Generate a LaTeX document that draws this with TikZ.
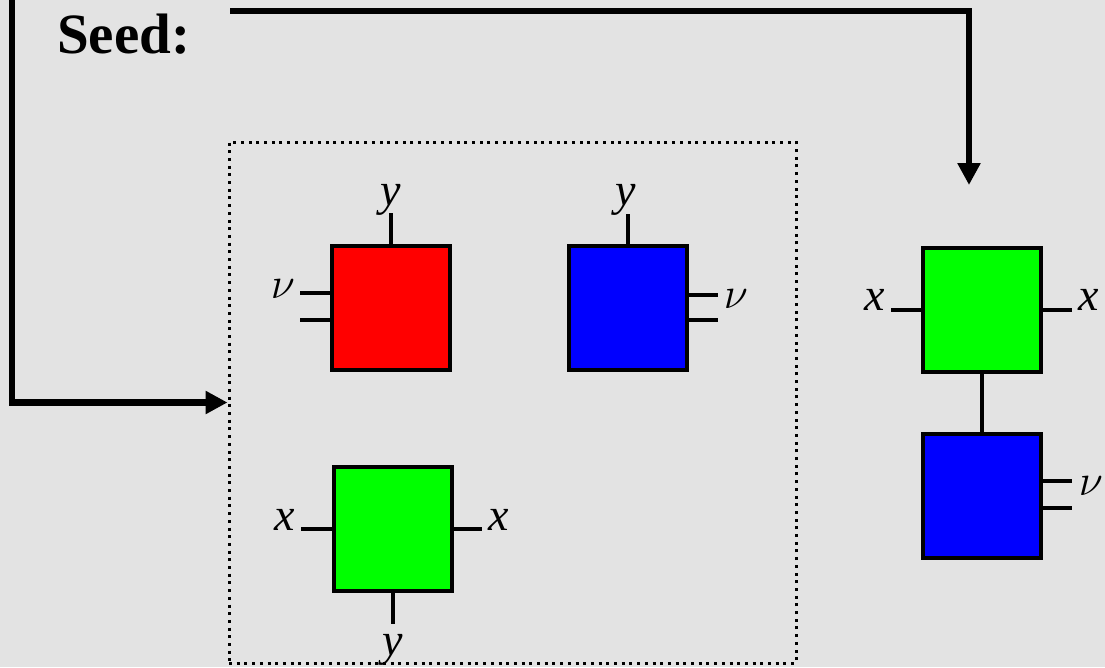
\documentclass[tikz,border=0pt]{standalone}
\usepackage{fix-cm}
\usepackage{fontspec}
\setmainfont{Liberation Serif}
\usetikzlibrary{arrows.meta}
\definecolor{bg}{HTML}{E3E3E3}
\definecolor{pred}{HTML}{FF0000}
\definecolor{pblue}{HTML}{0000FF}
\definecolor{pgreen}{HTML}{00FF00}
\begin{document}
\begin{tikzpicture}[x=1pt,y=-1pt,
  tile/.style={draw=black, line width=4pt, minimum width=118pt, minimum height=124pt, inner sep=0pt},
  stub/.style={draw=black, line width=4pt},
  lbl/.style={anchor=base, inner sep=0pt, font=\fontsize{46}{46}\selectfont\itshape},
  nulbl/.style={anchor=base, inner sep=0pt, font=\fontsize{44}{44}\selectfont},
  flow/.style={draw=black, line width=6.5pt, -{Triangle[length=22pt,width=22pt]}},
  frame/.style={draw=black, line width=3pt, dash pattern=on 3pt off 4.7pt, minimum width=567pt, minimum height=521pt, inner sep=0pt}
]
\fill[bg] (0,0) rectangle (1105,667);
\useasboundingbox (0,0) rectangle (1105,667);

% title
\node[anchor=base west, inner sep=0pt, font=\fontsize{57}{57}\selectfont\bfseries] (seed) at (57,53) {Seed:};

% dotted frame
\node[frame] (fr) at (512.5,402.5) {};

% tiles
\node[tile, fill=pred] (red) at (391,308) {};
\node[tile, fill=pblue] (blue) at (627.5,308) {};
\node[tile, fill=pgreen] (green) at (392.5,529) {};
\node[tile, fill=pgreen] (rgreen) at (982,310) {};
\node[tile, fill=pblue] (rblue) at (982,495.5) {};

% red stubs
\draw[stub] (red.north) -- ++(0,-31);
\draw[stub] ([yshift=-12pt]red.west) -- ++(-30,0);
\draw[stub] ([yshift=15pt]red.west) -- ++(-30,0);
% blue stubs
\draw[stub] (blue.north) -- ++(0,-30);
\draw[stub] ([yshift=-12pt]blue.east) -- ++(29,0);
\draw[stub] ([yshift=13pt]blue.east) -- ++(29,0);
% green stubs
\draw[stub] (green.west) -- ++(-31,0);
\draw[stub] (green.east) -- ++(28,0);
\draw[stub] (green.south) -- ++(0,31);
% right green stubs
\draw[stub] (rgreen.west) -- ++(-30,0);
\draw[stub] (rgreen.east) -- ++(29,0);
% connector
\draw[stub] (rgreen.south) -- (rblue.north);
% right blue stubs
\draw[stub] ([yshift=-12.5pt]rblue.east) -- ++(29,0);
\draw[stub] ([yshift=14.5pt]rblue.east) -- ++(29,0);

% labels
\node[lbl] (ry) at (391,205) {y};
\node[nulbl] (rv) at (283,298) {$\nu$};
\node[lbl] (by) at (626,205) {y};
\node[nulbl] (bv) at (736,308) {$\nu$};
\node[lbl] (gxl) at (285,530) {x};
\node[lbl] (gxr) at (499,530) {x};
\node[lbl] (gy) at (393,655) {y};
\node[lbl] (rgxl) at (875,310) {x};
\node[lbl] (rgxr) at (1089,310) {x};
\node[nulbl] (rbv) at (1091,495) {$\nu$};

% arrows
\coordinate (lstart) at (12,0);
\coordinate (tstart) at (230,11);
\coordinate (tend) at (969,185);
\draw[flow] (lstart) -- (lstart |- fr.west) -- (fr.west);
\draw[flow] (tstart) -- (tstart -| tend) -- (tend);
\end{tikzpicture}
\end{document}
